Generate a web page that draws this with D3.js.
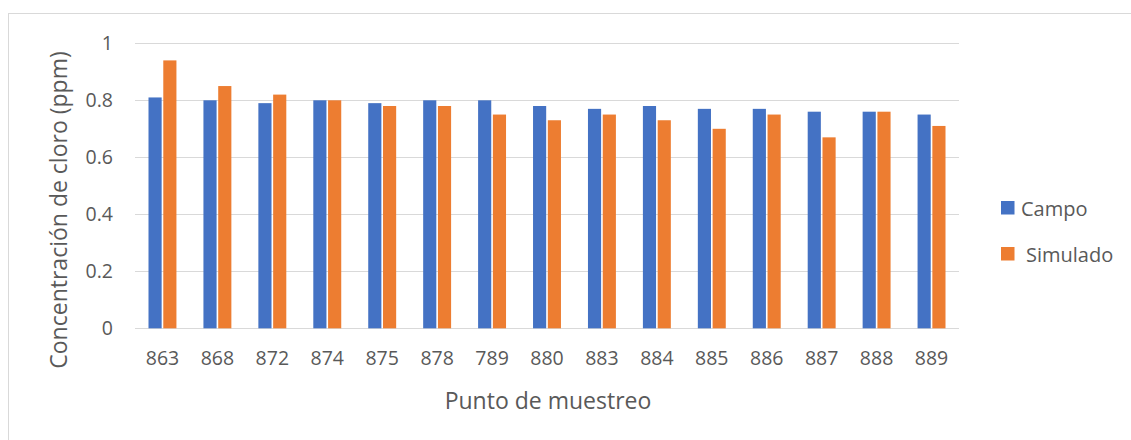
<!DOCTYPE html>
<html>
<head>
<meta charset="utf-8">
<script src="https://cdn.jsdelivr.net/npm/d3@7"></script>
<style>
  html, body { margin: 0; padding: 0; background: #fff; }
  svg { display: block; font-family: "Open Sans", "Noto Sans", sans-serif; }
</style>
</head>
<body>
<svg id="chart" width="1131" height="440"></svg>
<script>
// Sampling points and chlorine concentrations (ppm)
const categories = ["863","868","872","874","875","878","789","880","883","884","885","886","887","888","889"];
const campo    = [0.81, 0.80, 0.79, 0.80, 0.79, 0.80, 0.80, 0.78, 0.77, 0.78, 0.77, 0.77, 0.76, 0.76, 0.75];
const simulado = [0.94, 0.85, 0.82, 0.80, 0.78, 0.78, 0.75, 0.73, 0.75, 0.73, 0.70, 0.75, 0.67, 0.76, 0.71];
const seriesNames = ["Campo", "Simulado"];
const yTicks = [0, 0.2, 0.4, 0.6, 0.8, 1];
const yTickLabels = ["0", "0.2", "0.4", "0.6", "0.8", "1"];

const colors = ["#4472C4", "#ED7D31"];
const textColor = "#595959";
const gridColor = "#d9d9d9";

const svg = d3.select("#chart");

// Outer chart frame
svg.append("rect")
  .attr("x", 8.5).attr("y", 13.5)
  .attr("width", 1140).attr("height", 460)
  .attr("fill", "none").attr("stroke", gridColor).attr("stroke-width", 1);

const plot = { left: 135, right: 959, top: 43.3, bottom: 328.3 };

const x = d3.scaleBand().domain(categories).range([plot.left, plot.right]).paddingInner(0).paddingOuter(0);
const inner = d3.scaleBand().domain(seriesNames).range([13.5, x.bandwidth() - 13.5]).paddingInner(0.11);
const y = d3.scaleLinear().domain([0, 1]).range([plot.bottom, plot.top]);

// Gridlines
svg.append("g").selectAll("line").data(yTicks).join("line")
  .attr("x1", plot.left).attr("x2", plot.right)
  .attr("y1", d => Math.round(y(d)) + 0.5).attr("y2", d => Math.round(y(d)) + 0.5)
  .attr("stroke", gridColor).attr("stroke-width", 1.2);

// Y tick labels
svg.append("g").selectAll("text").data(yTicks).join("text")
  .attr("x", 113).attr("y", d => y(d))
  .attr("dy", "0.36em")
  .attr("text-anchor", "end")
  .attr("fill", textColor).attr("font-size", 19.5)
  .text((d, i) => yTickLabels[i]);

// Bars
const rows = categories.map((c, i) => ({ cat: c, vals: [campo[i], simulado[i]] }));
const groups = svg.append("g").selectAll("g").data(rows).join("g")
  .attr("transform", d => `translate(${x(d.cat)},0)`);
groups.selectAll("rect")
  .data(d => d.vals.map((v, k) => ({ name: seriesNames[k], v, k })))
  .join("rect")
  .attr("x", d => inner(d.name))
  .attr("width", inner.bandwidth())
  .attr("y", d => y(d.v))
  .attr("height", d => y(0) - y(d.v))
  .attr("fill", d => colors[d.k]);

// X tick labels
svg.append("g").selectAll("text").data(categories).join("text")
  .attr("x", d => x(d) + x.bandwidth() / 2)
  .attr("y", 365)
  .attr("text-anchor", "middle")
  .attr("fill", textColor).attr("font-size", 19.5)
  .text(d => d);

// Axis titles
svg.append("text")
  .attr("x", (plot.left + plot.right) / 2 + 1).attr("y", 409)
  .attr("text-anchor", "middle")
  .attr("fill", textColor).attr("font-size", 23)
  .text("Punto de muestreo");

svg.append("text")
  .attr("transform", "translate(67,210) rotate(-90)")
  .attr("text-anchor", "middle")
  .attr("fill", textColor).attr("font-size", 23)
  .text("Concentración de cloro (ppm)");

// Legend
const legendY = [201, 247];
const legendTextX = [1021, 1026];
const legend = svg.append("g").selectAll("g").data(seriesNames).join("g");
legend.append("rect")
  .attr("x", 1001).attr("y", (d, i) => legendY[i])
  .attr("width", 13.5).attr("height", 13.5)
  .attr("fill", (d, i) => colors[i]);
legend.append("text")
  .attr("x", (d, i) => legendTextX[i]).attr("y", (d, i) => legendY[i] + 14.5)
  .attr("fill", textColor).attr("font-size", 20)
  .text(d => d);
</script>
</body>
</html>
